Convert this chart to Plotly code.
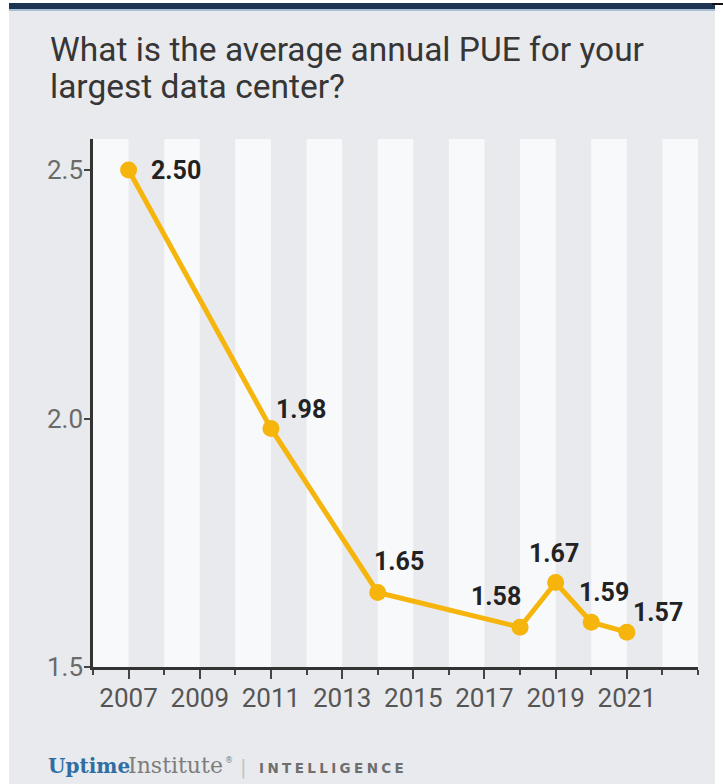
import plotly.graph_objects as go

years = [2007, 2011, 2014, 2018, 2019, 2020, 2021]
pue = [2.50, 1.98, 1.65, 1.58, 1.67, 1.59, 1.57]
labels = ["2.50", "1.98", "1.65", "1.58", "1.67", "1.59", "1.57"]
x_tick_vals = [2007, 2009, 2011, 2013, 2015, 2017, 2019, 2021]
y_tick_vals = [1.5, 2.0, 2.5]
y_tick_text = ["1.5", "2.0", "2.5"]
title_lines = ["What is the average annual PUE for your", "largest data center?"]

W, H = 723, 784
ML, MR, MT, MB = 93, 25, 139, 117
PW, PH = W - ML - MR, H - MT - MB

def px(xp):
    return (xp - ML) / PW

def py(yp):
    return (H - MB - yp) / PH

BG = "#e9eaed"
STRIPE = "#f8f9fb"
GOLD = "#f5b50c"

fig = go.Figure()
fig.add_trace(go.Scatter(
    x=years, y=pue, mode="lines+markers",
    line=dict(color=GOLD, width=5),
    marker=dict(color=GOLD, size=17),
    hoverinfo="skip", showlegend=False,
))

shapes = []
# alternating stripes
for y0 in range(2006, 2023, 2):
    shapes.append(dict(type="rect", xref="x", yref="paper", x0=y0, x1=y0 + 1,
                       y0=0, y1=1, fillcolor=STRIPE, line=dict(width=0), layer="below"))
# white outside the card
shapes.append(dict(type="rect", xref="paper", yref="paper", x0=px(0), x1=px(9),
                   y0=py(H), y1=py(0), fillcolor="white", line=dict(width=0), layer="below"))
shapes.append(dict(type="rect", xref="paper", yref="paper", x0=px(715), x1=px(W),
                   y0=py(H), y1=py(0), fillcolor="white", line=dict(width=0), layer="below"))
shapes.append(dict(type="rect", xref="paper", yref="paper", x0=px(0), x1=px(W),
                   y0=py(3), y1=py(0), fillcolor="white", line=dict(width=0), layer="below"))
# top navy bar
shapes.append(dict(type="rect", xref="paper", yref="paper", x0=px(9), x1=px(715),
                   y0=py(9), y1=py(3), fillcolor="#1d3553", line=dict(width=0)))
shapes.append(dict(type="rect", xref="paper", yref="paper", x0=px(9), x1=px(715),
                   y0=py(11), y1=py(9), fillcolor="#a9bfd6", line=dict(width=0)))
shapes.append(dict(type="rect", xref="paper", yref="paper", x0=px(712), x1=px(W),
                   y0=py(5), y1=py(3), fillcolor="#111111", line=dict(width=0)))

# data label offsets (pixels)
offsets = [(20, 0, "left"), (30, 19, "center"), (21, 31, "center"), (-24, 31, "center"),
           (-2, 29, "center"), (13, 30, "center"), (31, 20, "center")]
annotations = []
for xv, yv, t, (dx, dy, xa) in zip(years, pue, labels, offsets):
    annotations.append(dict(x=xv, y=yv, xref="x", yref="y", text=t, showarrow=False,
                            xanchor=xa, yanchor="middle", xshift=dx, yshift=dy,
                            font=dict(family="Roboto", size=25, color="#222222", weight="bold")))

for line, yc in zip(title_lines, [49, 86.5]):
    annotations.append(dict(xref="paper", yref="paper", x=px(48), y=py(yc), xanchor="left",
                            yanchor="middle", text=line, showarrow=False, align="left",
                            font=dict(family="Roboto", size=33.5, color="#363636")))
# logo
annotations.append(dict(xref="paper", yref="paper", x=px(46), y=py(766), xanchor="left", yanchor="middle",
                        text="<b>Uptime</b>", showarrow=False,
                        font=dict(family="DejaVu Serif", size=20, color="#2f6ea3")))
annotations.append(dict(xref="paper", yref="paper", x=px(126), y=py(765.5), xanchor="left", yanchor="middle",
                        text="Institute", showarrow=False,
                        font=dict(family="DejaVu Serif", size=22, color="#7d7d7d")))
annotations.append(dict(xref="paper", yref="paper", x=px(223), y=py(760), xanchor="left", yanchor="middle",
                        text="®", showarrow=False,
                        font=dict(family="DejaVu Sans", size=8, color="#7d7d7d")))
annotations.append(dict(xref="paper", yref="paper", x=px(243), y=py(767), xanchor="center", yanchor="middle",
                        text="|", showarrow=False,
                        font=dict(family="DejaVu Sans", size=20, color="#c4c4c4")))
annotations.append(dict(xref="paper", yref="paper", x=px(257), y=py(768), xanchor="left", yanchor="middle",
                        text="\u2005".join("INTELLIGENCE"), showarrow=False,
                        font=dict(family="DejaVu Sans", size=13.5, color="#6f6f6f", weight="bold")))

fig.update_layout(
    width=W, height=H,
    margin=dict(l=ML, r=MR, t=MT, b=MB),
    paper_bgcolor=BG, plot_bgcolor=BG,
    shapes=shapes, annotations=annotations,
    xaxis=dict(range=[2006, 2023], tickvals=x_tick_vals, ticks="outside", ticklen=9, tickwidth=2,
               tickcolor="#444", showline=True, linecolor="#333", linewidth=2.5, showgrid=False,
               zeroline=False, tickfont=dict(family="Roboto", size=26, color="#555"),
               ticklabelstandoff=-3,
               minor=dict(dtick=1, tick0=2006, ticks="outside", ticklen=5, tickwidth=2, tickcolor="#444",
                          showgrid=False)),
    yaxis=dict(range=[1.5, 2.5625], tickvals=y_tick_vals, ticktext=y_tick_text, ticks="outside",
               ticklen=6, tickwidth=2, tickcolor="#444", showline=True, linecolor="#333", linewidth=2.5,
               showgrid=False, zeroline=False, ticklabelstandoff=-4,
               tickfont=dict(family="Roboto", size=26, color="#6a6a6a")),
)

fig.write_html("out.html", config={"displayModeBar": False},
               post_script="document.body.style.margin='0';document.body.style.overflow='hidden';")
